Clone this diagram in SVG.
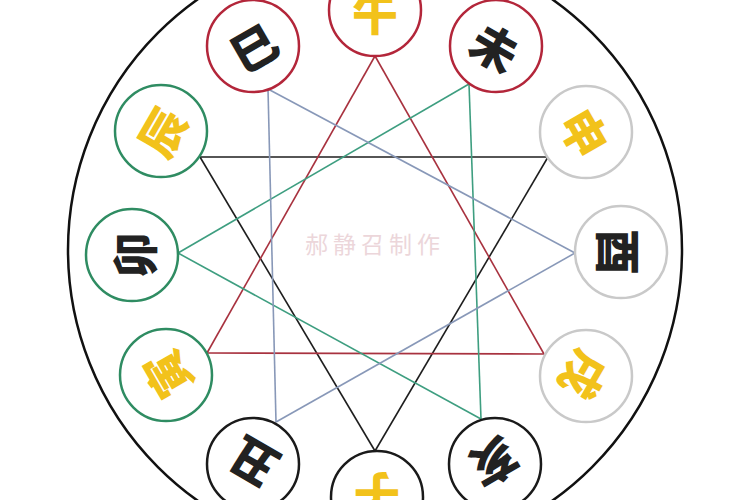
<svg xmlns="http://www.w3.org/2000/svg" width="750" height="500" viewBox="0 0 750 500">
<style>
.node circle{fill:#fff;stroke-width:2.5}
.red circle{stroke:#b3263a}
.green circle{stroke:#2f8c62}
.gray circle{stroke:#c9c9c9}
.black circle{stroke:#1a1a1a}
.node text{font-family:"Noto Sans CJK SC","Noto Sans CJK TC",sans-serif;font-weight:900;font-size:46px;text-anchor:middle;dominant-baseline:central}
.y text{fill:#f2c21b}
.k text{fill:#222}
#connectors line{stroke-width:1.6;fill:none}
.lk{stroke:#1e1e1e}
.lr{stroke:#a8323f}
.lg{stroke:#3e9e80}
.lb{stroke:#8898b8}
</style>
<rect width="750" height="500" fill="#fff"/>
<circle cx="375" cy="250" r="307" fill="none" stroke="#111" stroke-width="2.5"/>
<text x="375" y="243" font-family="'Noto Sans CJK SC',serif" font-size="23" letter-spacing="5" fill="#ecd6da" text-anchor="middle" dominant-baseline="central">郝静召制作</text>
<g id="connectors">
<line class="lk" x1="200" y1="157" x2="548" y2="157"/>
<line class="lk" x1="548" y1="157" x2="375" y2="451"/>
<line class="lk" x1="200" y1="157" x2="375" y2="451"/>
<line class="lr" x1="375" y1="56" x2="207" y2="353"/>
<line class="lr" x1="375" y1="56" x2="544" y2="354"/>
<line class="lr" x1="207" y1="353" x2="544" y2="354"/>
<line class="lg" x1="469" y1="84" x2="178" y2="253"/>
<line class="lg" x1="469" y1="84" x2="481" y2="419"/>
<line class="lg" x1="178" y1="253" x2="481" y2="419"/>
<line class="lb" x1="268" y1="89" x2="575" y2="253"/>
<line class="lb" x1="268" y1="89" x2="276" y2="422"/>
<line class="lb" x1="276" y1="422" x2="575" y2="253"/>
</g>
<g id="wu" class="node red y"><circle cx="375" cy="10" r="46"/><text x="375" y="10">午</text></g>
<g id="wei" class="node red k"><circle cx="496" cy="46" r="46"/><text x="496" y="46" transform="rotate(30 496 46)">未</text></g>
<g id="shen" class="node gray y"><circle cx="586" cy="132" r="46"/><text x="586" y="132" transform="rotate(60 586 132)">申</text></g>
<g id="you" class="node gray k"><circle cx="621" cy="252" r="46"/><text x="621" y="252" transform="rotate(90 621 252)">酉</text></g>
<g id="xu" class="node gray y"><circle cx="586" cy="376" r="46"/><text x="586" y="376" transform="rotate(120 586 376)">戌</text></g>
<g id="hai" class="node black k"><circle cx="495" cy="464" r="46"/><text x="495" y="464" transform="rotate(150 495 464)">亥</text></g>
<g id="zi" class="node black y"><circle cx="377" cy="497" r="46"/><text x="377" y="497" transform="rotate(180 377 497)">子</text></g>
<g id="chou" class="node black k"><circle cx="253" cy="464" r="46"/><text x="253" y="464" transform="rotate(210 253 464)">丑</text></g>
<g id="yin" class="node green y"><circle cx="166" cy="375" r="46"/><text x="166" y="375" transform="rotate(240 166 375)">寅</text></g>
<g id="mao" class="node green k"><circle cx="132" cy="255" r="46"/><text x="132" y="255" transform="rotate(270 132 255)">卯</text></g>
<g id="chen" class="node green y"><circle cx="161" cy="131" r="46"/><text x="161" y="131" transform="rotate(300 161 131)">辰</text></g>
<g id="si" class="node red k"><circle cx="253" cy="46" r="46"/><text x="253" y="46" transform="rotate(330 253 46)">巳</text></g>
</svg>
